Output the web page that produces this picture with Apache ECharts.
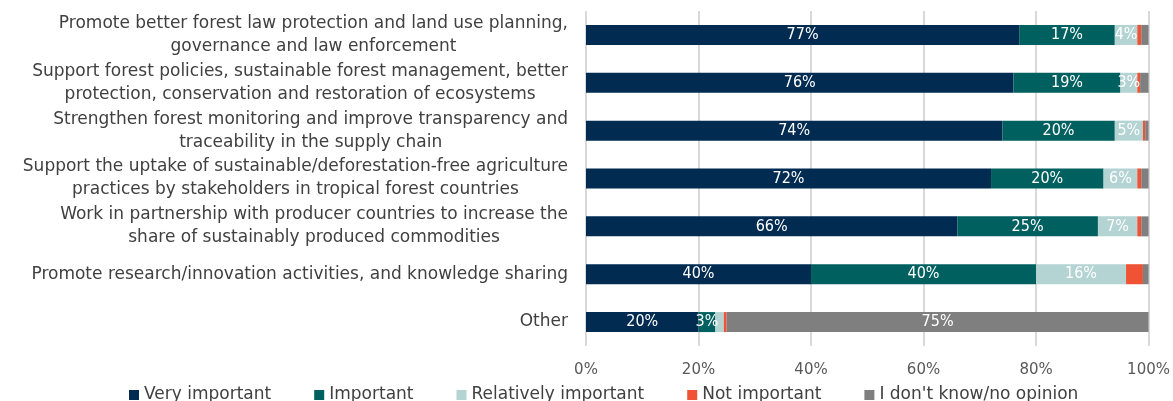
<!DOCTYPE html>
<html>
<head>
<meta charset="utf-8">
<script src="https://cdn.jsdelivr.net/npm/echarts@6/dist/echarts.min.js"></script>
<style>
  html, body { margin: 0; padding: 0; background: #fff; }
  #chart { width: 1173px; height: 401px; }
</style>
</head>
<body>
<div id="chart"></div>
<script>
// Survey actions, top to bottom
const categories = [
  'Promote better forest law protection and land use planning,\ngovernance and law enforcement',
  'Support forest policies, sustainable forest management, better\nprotection, conservation and restoration of ecosystems',
  'Strengthen forest monitoring and improve transparency and\ntraceability in the supply chain',
  'Support the uptake of sustainable/deforestation-free agriculture\npractices by stakeholders in tropical forest countries',
  'Work in partnership with producer countries to increase the\nshare of sustainably produced commodities',
  'Promote research/innovation activities, and knowledge sharing',
  'Other'
];

// Share of respondents (%) per answer
const veryImportant = [77, 76, 74, 72, 66, 40, 20];
const important = [17, 19, 20, 20, 25, 40, 3];
const relativelyImportant = [4, 3, 5, 6, 7, 16, 1.5];
const notImportant = [0.7, 0.5, 0.4, 0.7, 0.7, 3, 0.5];
const dontKnow = [1.3, 1.5, 0.6, 1.3, 1.3, 1, 75];

const seriesNames = ['Very important', 'Important', 'Relatively important', 'Not important', "I don't know/no opinion"];
const xTicks = [0, 20, 40, 60, 80, 100];

const FONT = "'DejaVu Sans', sans-serif";
const FONT_NARROW = "'DejaVu Sans Condensed', 'DejaVu Sans', sans-serif";
const colors = ['#022B52', '#00605F', '#B4D3D3', '#EF5234', '#7F7F7F'];

function makeSeries(name, data, color, minLabel) {
  return {
    name: name,
    type: 'bar',
    stack: 'total',
    data: data,
    barWidth: 20,
    itemStyle: { color: color },
    label: {
      show: minLabel !== null,
      position: 'inside',
      color: '#fff',
      fontFamily: FONT_NARROW,
      fontSize: 16,
      formatter: p => (minLabel !== null && p.value >= minLabel) ? Math.round(p.value) + '%' : ''
    },
    emphasis: { disabled: true }
  };
}

const chart = echarts.init(document.getElementById('chart'), null, { renderer: 'canvas' });
chart.setOption({
  animation: false,
  textStyle: { fontFamily: FONT },
  grid: { left: 586, right: 21, top: 11, bottom: 55, containLabel: false },
  legend: {
    data: seriesNames,
    left: 124,
    top: 380,
    icon: 'rect',
    itemWidth: 10,
    itemHeight: 10,
    itemGap: 43,
    textStyle: { fontFamily: FONT, fontSize: 17, lineHeight: 20, color: '#404040' }
  },
  xAxis: {
    type: 'value',
    min: 0,
    max: 100,
    interval: 20,
    axisLine: { show: false },
    axisTick: { show: false },
    splitLine: { show: true, lineStyle: { color: '#D9D9D9', width: 2 } },
    axisLabel: {
      margin: 17,
      color: '#595959',
      fontFamily: FONT,
      fontSize: 15,
      formatter: v => xTicks.includes(v) ? v + '%' : ''
    }
  },
  yAxis: {
    type: 'category',
    inverse: true,
    data: categories,
    axisLine: { show: false },
    axisTick: { show: false },
    axisLabel: {
      margin: 18,
      color: '#404040',
      fontFamily: FONT,
      fontSize: 17,
      lineHeight: 23,
      formatter: v => v.split('\n').map(l => '{c|' + l + '}').join('\n'),
      rich: {
        c: { align: 'center', fontFamily: FONT, fontSize: 17, lineHeight: 23, color: '#404040' }
      }
    }
  },
  series: [
    makeSeries(seriesNames[0], veryImportant, colors[0], 3),
    makeSeries(seriesNames[1], important, colors[1], 3),
    makeSeries(seriesNames[2], relativelyImportant, colors[2], 3),
    makeSeries(seriesNames[3], notImportant, colors[3], null),
    makeSeries(seriesNames[4], dontKnow, colors[4], 5)
  ]
});
</script>
</body>
</html>
